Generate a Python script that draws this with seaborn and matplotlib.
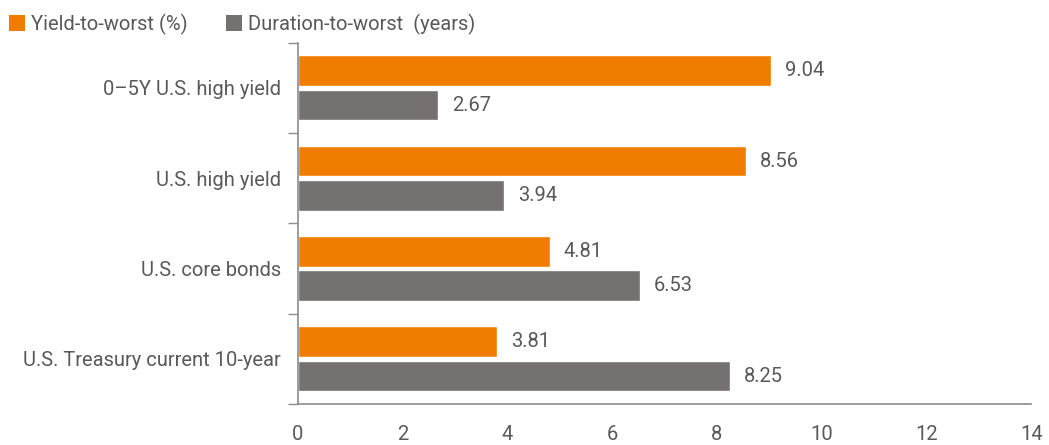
import matplotlib
matplotlib.use("Agg")
import matplotlib.pyplot as plt
import seaborn as sns
import pandas as pd
from matplotlib.patches import Patch

categories = ["0\u20135Y U.S. high yield", "U.S. high yield", "U.S. core bonds", "U.S. Treasury current 10-year"]
series = ["Yield-to-worst (%)", "Duration-to-worst  (years)"]
yield_to_worst = [9.04, 8.56, 4.81, 3.81]
duration_to_worst = [2.67, 3.94, 6.53, 8.25]
x_ticks = [0, 2, 4, 6, 8, 10, 12, 14]

colors = ["#F07D00", "#767171"]
text_color = "#595959"

sns.set_theme(style="white")
plt.rcParams['font.family'] = ['Roboto', 'DejaVu Sans']

df = pd.DataFrame({
    "category": categories * 2,
    "series": [series[0]] * 4 + [series[1]] * 4,
    "value": yield_to_worst + duration_to_worst,
})

fig = plt.figure(figsize=(10.49, 4.45), dpi=100)
ax = fig.add_axes([0.284, 0.092, 0.699, 0.812])

sns.barplot(data=df, y="category", x="value", hue="series", order=categories,
            hue_order=series, palette=colors, orient="h", width=0.76, gap=0.11,
            saturation=1, legend=False, ax=ax)

for cont in ax.containers:
    ax.bar_label(cont, fmt="%.2f", padding=10, color=text_color, fontsize=14.5)

ax.set_xlim(0, 14)
ax.set_ylim(3.5, -0.5)
ax.set_xticks(x_ticks)
ax.set_xticklabels([str(t) for t in x_ticks], color=text_color, fontsize=14.5)
ax.set_yticks(range(len(categories)))
ax.set_yticklabels(categories, color=text_color, fontsize=14.5)
ax.tick_params(axis="y", length=0, pad=12)
ax.tick_params(axis="x", length=6, width=1, color="#8c8c8c", pad=9, direction="out")
ax.set_xlabel("")
ax.set_ylabel("")

# category boundary ticks on y axis
ax.set_yticks([-0.5, 0.5, 1.5, 2.5, 3.5], minor=True)
ax.tick_params(axis="y", which="minor", length=7, width=1, color="#8c8c8c", left=True)

for s in ["top", "right"]:
    ax.spines[s].set_visible(False)
for s in ["left", "bottom"]:
    ax.spines[s].set_color("#8c8c8c")
    ax.spines[s].set_linewidth(1.2)

handles = [Patch(facecolor=c, edgecolor="none") for c in colors]
fig.legend(handles, series, loc="upper left", bbox_to_anchor=(-0.009, 1.01), ncol=2,
           frameon=False, fontsize=14.5, labelcolor=text_color, handlelength=0.8,
           handleheight=0.8, handletextpad=0.3, columnspacing=1.9)

fig.savefig("out.png", dpi=100)
